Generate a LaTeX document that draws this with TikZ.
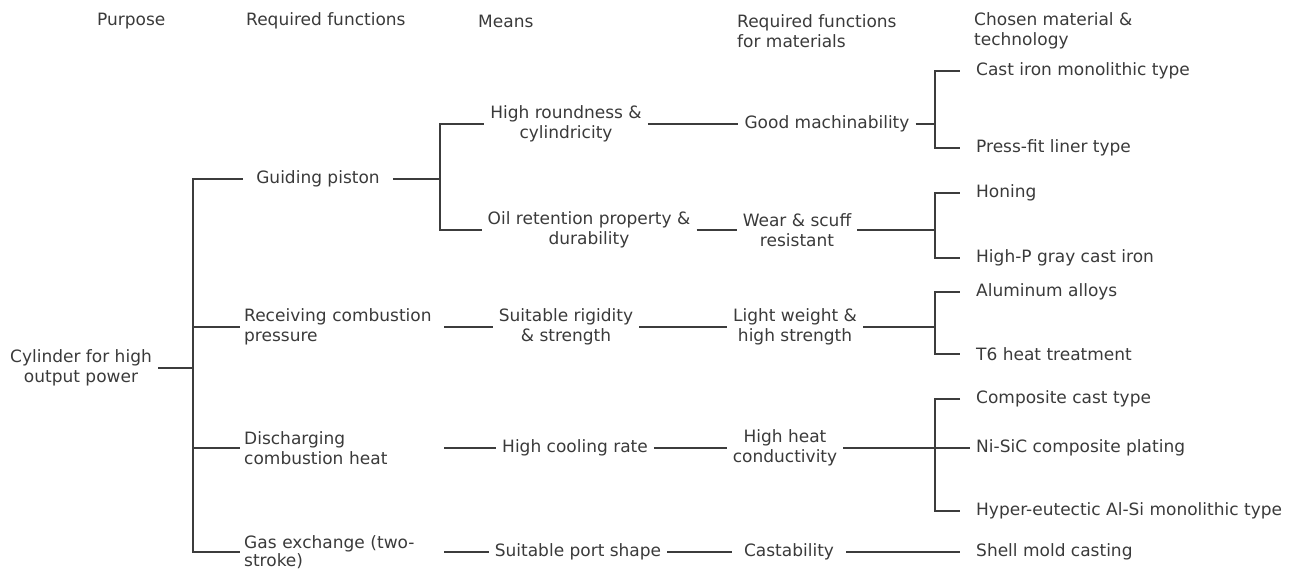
\documentclass[tikz,border=0pt]{standalone}
\usepackage{fontspec}
\setmainfont{DejaVu Sans}
\usepackage{tikz}
\usetikzlibrary{positioning}
\definecolor{txtgray}{HTML}{3A3A3A}
\definecolor{lngray}{HTML}{3C3C3C}

\begin{document}
\begin{tikzpicture}[x=1pt,y=-1pt,
font=\fontsize{17}{20}\selectfont,
every node/.style={text=txtgray, inner ysep=2pt},
head/.style={anchor=west, align=left, inner xsep=0pt},
item/.style={align=center, inner xsep=6pt},
func/.style={anchor=west, align=left, inner xsep=4pt, text width=196pt},
leaf/.style={anchor=west, inner xsep=16pt},
link/.style={draw=lngray, line width=1.4pt}]

\useasboundingbox (0,0) rectangle (1299,571);

% Column heads
\node[head] (hpur) at (97,21) {Purpose};
\node[head] (hreq) at (246,21) {Required functions};
\node[head] (hmea) at (478,21) {Means};
\node[head] (hmat) at (737,31) {Required functions\\for materials};
\node[head] (hcho) at (974,31) {Chosen material \&\\technology};

% Purpose and required functions
\node[item] (cyl) at (81,368) {Cylinder for high\\output power};
\node[item, inner xsep=13pt] (guide) at (318,179) {Guiding piston};
\node[func] (recv) at (240,327) {Receiving combustion\\pressure};
\node[func] (disc) at (240,448) {Discharging\\combustion heat};
\node[func, font=\fontsize{17}{18}\selectfont] (gas) at (240,552) {Gas exchange (two-\\stroke)};

% Means
\node[item] (round) at (566,124) {High roundness \&\\cylindricity};
\node[item] (oil) at (589,230) {Oil retention property \&\\durability};
\node[item] (rigid) at (566,327) {Suitable rigidity\\\& strength};
\node[item] (cool) at (575,448) {High cooling rate};
\node[item] (port) at (578,552) {Suitable port shape};

% Required functions for materials
\node[item] (good) at (827,124) {Good machinability};
\node[item] (wear) at (797,230) {Wear \& scuff\\resistant};
\node[item] (light) at (795,327) {Light weight \&\\high strength};
\node[item] (heat) at (785,448) {High heat\\conductivity};
\node[item, inner xsep=12pt] (cast) at (789,552) {Castability};

% Chosen material & technology
\node[leaf] (castiron) at (960,71) {Cast iron monolithic type};
\node[leaf] (pressfit) at (960,148) {Press-fit liner type};
\node[leaf] (honing) at (960,193) {Honing};
\node[leaf] (highp) at (960,258) {High-P gray cast iron};
\node[leaf] (alu) at (960,292) {Aluminum alloys};
\node[leaf] (tsix) at (960,354) {T6 heat treatment};
\node[leaf] (comp) at (960,399) {Composite cast type};
\node[leaf, inner xsep=6pt] (nisic) at (970,448) {Ni-SiC composite plating};
\node[leaf] (hyper) at (960,511) {Hyper-eutectic Al-Si monolithic type};
\node[leaf] (shell) at (960,552) {Shell mold casting};

% Junctions
\coordinate (j0) at (193,368);
\coordinate (jg) at (440,179);
\coordinate (jm1) at (935,124);
\coordinate (jm2) at (935,230);
\coordinate (jm3) at (935,327);

% Tree
\draw[link] (cyl) -- (j0);
\draw[link] (j0) |- (guide.west);
\draw[link] (j0) |- (recv.west);
\draw[link] (j0) |- (disc.west);
\draw[link] (j0) |- (gas.west);

\draw[link] (guide) -- (jg);
\draw[link] (jg) |- (round.west);
\draw[link] (jg) |- (oil.west);
\draw[link] (recv) -- (rigid);
\draw[link] (disc) -- (cool);
\draw[link] (gas) -- (port);

\draw[link] (round) -- (good);
\draw[link] (oil) -- (wear);
\draw[link] (rigid) -- (light);
\draw[link] (cool) -- (heat);
\draw[link] (port) -- (cast);

\draw[link] (good) -- (jm1);
\draw[link] (jm1) |- (castiron.west);
\draw[link] (jm1) |- (pressfit.west);
\draw[link] (wear) -- (jm2);
\draw[link] (jm2) |- (honing.west);
\draw[link] (jm2) |- (highp.west);
\draw[link] (light) -- (jm3);
\draw[link] (jm3) |- (alu.west);
\draw[link] (jm3) |- (tsix.west);
\draw[link] (heat) -- (nisic);
\draw[link] (comp.west) -| (935,448) |- (hyper.west);
\draw[link] (cast) -- (shell);

\end{tikzpicture}
\end{document}
